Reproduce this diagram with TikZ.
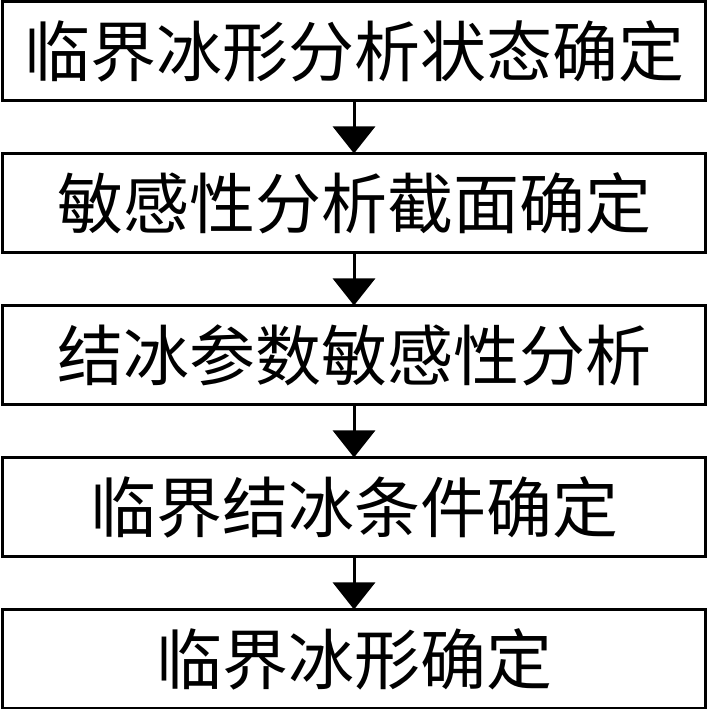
\documentclass[tikz,border=0pt]{standalone}
\usepackage{fontspec}
\usepackage{tikz}
\usetikzlibrary{arrows.meta,positioning}
\newfontfamily\cjk{Noto Sans CJK SC}
\tikzset{
  ar/.style={-{Triangle[length=27pt,width=42pt]},line width=3pt},
  box/.style={draw,line width=3pt,minimum width=703pt,minimum height=99pt,inner sep=0pt,outer sep=0pt,font=\cjk\fontsize{66}{70}\selectfont}
}

\begin{document}
\begin{tikzpicture}[x=1pt,y=1pt,node distance=53pt]
\useasboundingbox (0,0) rectangle (709,709);
\node[box] (s1) at (354,658) {临界冰形分析状态确定};
\node[box,below=of s1] (s2) {敏感性分析截面确定};
\node[box,below=of s2] (s3) {结冰参数敏感性分析};
\node[box,below=of s3] (s4) {临界结冰条件确定};
\node[box,below=of s4] (s5) {临界冰形确定};
\draw[ar] (s1) -- (s2);
\draw[ar] (s2) -- (s3);
\draw[ar] (s3) -- (s4);
\draw[ar] (s4) -- (s5);
\end{tikzpicture}
\end{document}
